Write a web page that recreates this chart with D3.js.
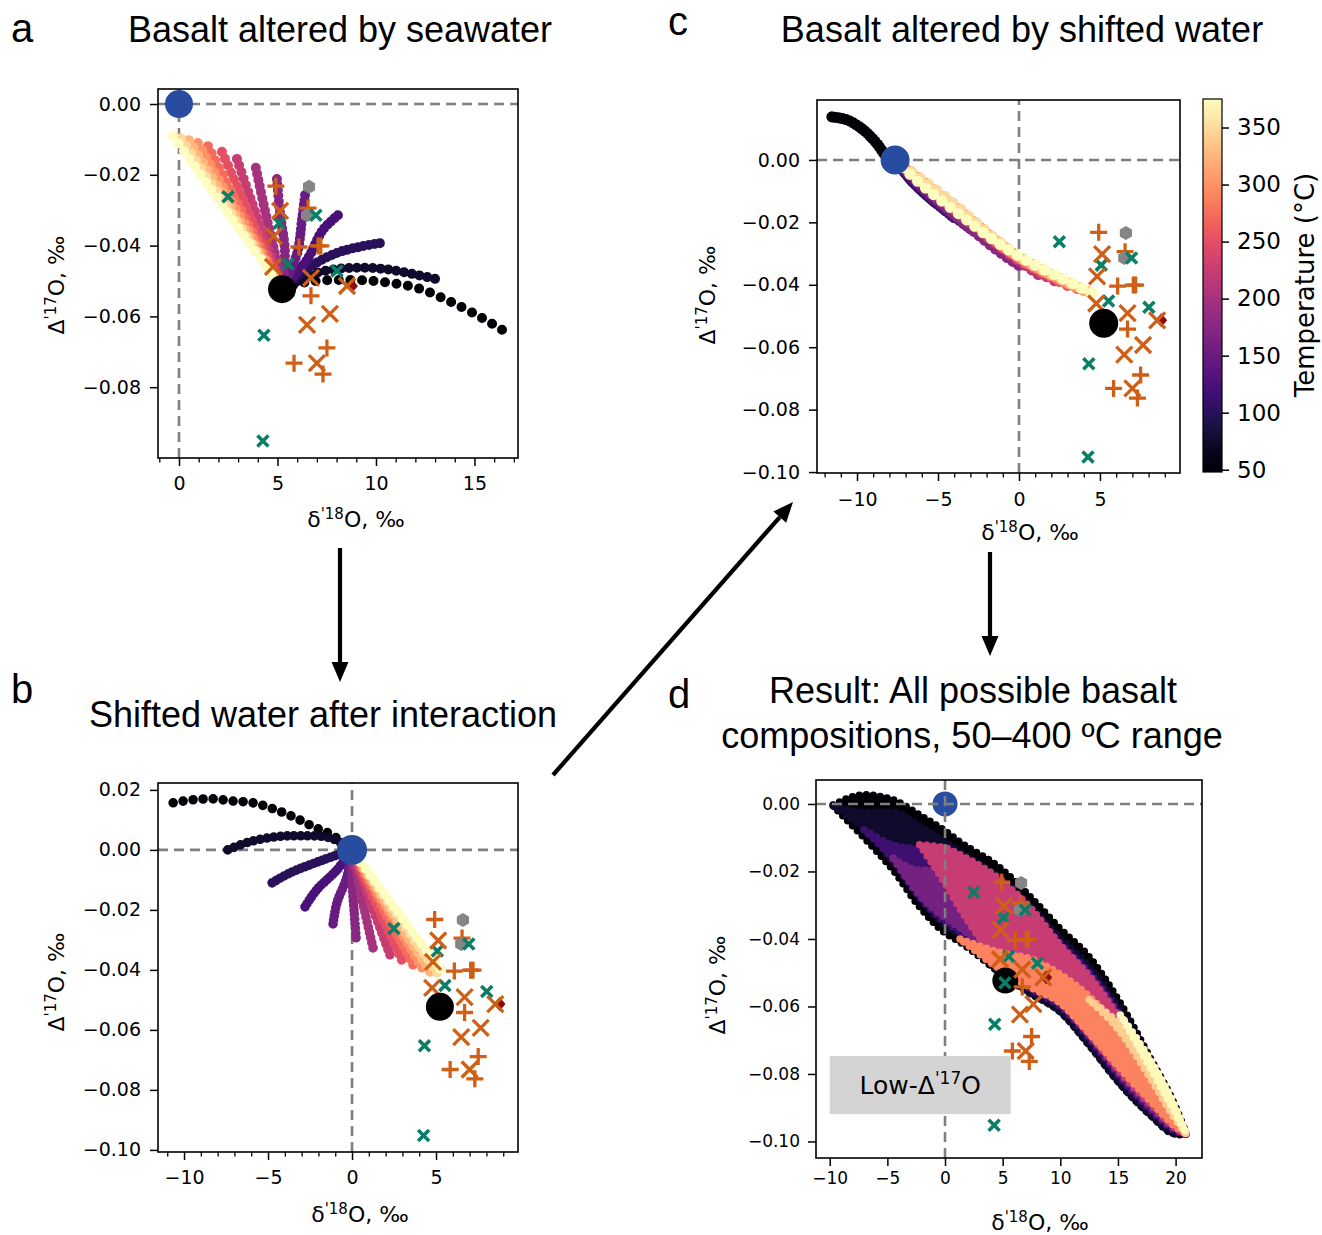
<!DOCTYPE html>
<html><head><meta charset="utf-8">
<script src="https://cdn.jsdelivr.net/npm/d3@7"></script>
<style>
body{margin:0;background:#fff}
text{font-family:"DejaVu Sans",sans-serif;fill:#000}
.ttl{font-family:"Liberation Sans",Arial,sans-serif}
</style>
</head><body>
<svg id="fig" width="1322" height="1235" xmlns="http://www.w3.org/2000/svg"></svg>
<script>
// ================= DATA =================
const temperatures = [50,75,100,125,150,175,200,225,250,275,300,325,350,375];
const tempRange = [48,375];
const basalt = [5.23,-0.0523];
const seawater = [0,0];
const shiftedWaterC = [-7.65,0];

// Panel a: basalt altered by seawater, one curve per temperature
const curvesA = [
 [[5.23,-0.0523],[6.5,-0.0503],[8.7,-0.0497],[10.4,-0.0503],[12.1,-0.052],[13.8,-0.0559],[15.4,-0.0605],[16.4,-0.0638]],
 [[5.23,-0.0523],[7.0,-0.0477],[8.7,-0.0463],[10.4,-0.0466],[12.1,-0.0483],[13.0,-0.0494]],
 [[5.23,-0.0523],[6.65,-0.046],[8.0,-0.0421],[9.2,-0.0403],[10.2,-0.0393]],
 [[5.23,-0.0523],[6.5,-0.044],[7.3,-0.0356],[8.07,-0.0314]],
 [[5.23,-0.0523],[6.0,-0.0421],[6.24,-0.0328],[6.4,-0.0257]],
 [[5.23,-0.0523],[5.38,-0.042],[5.13,-0.0308],[4.97,-0.0212]],
 [[5.23,-0.0523],[4.9,-0.043],[4.4,-0.031],[3.9,-0.018]],
 [[5.23,-0.0523],[4.47,-0.0400],[3.70,-0.0278],[2.94,-0.0155]],
 [[5.23,-0.0523],[4.21,-0.0394],[3.20,-0.0264],[2.18,-0.0135]],
 [[5.23,-0.0523],[3.98,-0.0388],[2.72,-0.0254],[1.47,-0.0119]],
 [[5.23,-0.0523],[3.81,-0.0385],[2.38,-0.0248],[0.96,-0.0110]],
 [[5.23,-0.0523],[3.65,-0.0383],[2.08,-0.0242],[0.50,-0.0102]],
 [[5.23,-0.0523],[3.52,-0.0381],[1.81,-0.0239],[0.10,-0.0097]],
 [[5.23,-0.0523],[3.39,-0.0379],[1.54,-0.0234],[-0.30,-0.0090]]
];

// Panel b: shifted water after interaction
const curvesB = [
 [[0,0],[-1.2,0.005],[-2.3,0.0077],[-3.5,0.011],[-4.7,0.0137],[-5.9,0.0157],[-7.1,0.0163],[-8.3,0.017],[-9.5,0.0167],[-10.65,0.0157]],
 [[0,0],[-1.3,0.004],[-3.1,0.0047],[-4.5,0.0044],[-6.1,0.0027],[-7.4,0.0]],
 [[0,0],[-1.7,-0.0033],[-3.7,-0.0077],[-4.76,-0.011]],
 [[0,0],[-0.9,-0.0067],[-2.1,-0.0133],[-2.8,-0.019]],
 [[0,0],[-0.3,-0.009],[-0.9,-0.0177],[-1.13,-0.0247]],
 [[0,0],[0.0,-0.010],[0.12,-0.020],[0.24,-0.0293]],
 [[0,0],[0.6,-0.0165],[1.25,-0.0327]],
 [[0,0],[1.1,-0.0175],[2.26,-0.035]],
 [[0,0],[1.45,-0.0183],[2.96,-0.0367]],
 [[0,0],[1.8,-0.0192],[3.63,-0.0383]],
 [[0,0],[2.07,-0.0197],[4.17,-0.0393]],
 [[0,0],[2.3,-0.0203],[4.64,-0.0407]],
 [[0,0],[2.52,-0.0205],[5.06,-0.041]],
 [[0,0],[2.62,-0.0199],[5.24,-0.0397]]
];

// Panel c: basalt altered by shifted water
const curvesC = [
 [[-11.55,0.0138],[-10.6,0.0128],[-9.6,0.0096],[-8.8,0.0054],[-8.1,0.0006],[-7.5,-0.0015]],
 [[-7.65,0],[-6.6,-0.0068],[-5.2,-0.0135]],
 [[-7.65,0],[-6.2,-0.0088],[-4.0,-0.0185]],
 [[-7.65,0],[-6.0,-0.0095],[-3.0,-0.0220]],
 [[-7.65,0],[-5.5,-0.0112],[-2.0,-0.0258]],
 [[-7.65,0],[-5.0,-0.0128],[-1.5,-0.0283],[0.0,-0.0338]],
 [[-7.65,0],[-4.5,-0.0142],[-1.0,-0.0285],[1.2,-0.0367]],
 [[-7.65,0],[-4.5,-0.0137],[0.0,-0.0322],[2.2,-0.0387]],
 [[-7.65,0],[-4.5,-0.0132],[0.0,-0.0317],[3.0,-0.0402]],
 [[-7.65,0],[-4.5,-0.0128],[0.0,-0.0314],[3.6,-0.0412]],
 [[-7.65,0],[-4.5,-0.0125],[0.0,-0.0312],[4.0,-0.0418]],
 [[-7.65,0],[-4.5,-0.0122],[0.0,-0.0310],[4.3,-0.0422]],
 [[-7.65,0],[-4.5,-0.0120],[0.0,-0.0309],[4.4,-0.0424]],
 [[-7.65,0],[-6.9,-0.0038],[-5.7,-0.0093],[-3.64,-0.0176],[-1.6,-0.0256],[0,-0.0308],[2.53,-0.0375],[4.5,-0.0426]]
];

// Panel d: envelope of all basalt compositions as temperature stripes.
// For each stripe: upper and lower Δ'17O at each δ'18O in bandX (null = absent)
const bandX = [-9.7,-7,-4.5,-2.2,0,1.3,4.8,7.5,10,12.5,15.2,17.8,20,20.9];
const stripeTemps = [50,75,115,160,225,290,340,372];
const stripeUpper = [
 [-0.0003,0.0027,0.0012,-0.0033,-0.0080,-0.0113,-0.0190,-0.0279,-0.0370,-0.0453,-0.0590,-0.0753,-0.0898,-0.0975],
 [-0.0004,-0.0024,-0.0024,-0.0065,-0.0113,-0.0142,-0.0219,-0.0305,-0.0397,-0.0480,-0.0610,-0.0764,-0.0907,-0.0978],
 [null,-0.0077,-0.0121,-0.0136,-0.0166,-0.0181,-0.0240,-0.0320,-0.0412,-0.0498,-0.0625,-0.0776,-0.0913,-0.0978],
 [null,null,-0.0160,-0.0196,-0.0196,-0.0190,-0.0249,-0.0329,-0.0421,-0.0507,-0.0634,-0.0782,-0.0916,-0.0978],
 [null,null,null,-0.0121,-0.0130,-0.0151,-0.0225,-0.0312,-0.0418,-0.0510,-0.0640,-0.0788,-0.0919,-0.0978],
 [null,null,null,null,null,-0.0400,-0.0440,-0.0460,-0.0505,-0.0570,-0.0670,-0.0794,-0.0921,-0.0978],
 [null,null,null,null,null,null,null,null,null,-0.0580,-0.0655,-0.0764,-0.0907,-0.0976],
 [null,null,null,null,null,null,null,null,null,null,-0.0625,-0.0759,-0.0901,-0.0976]
];
const stripeLower = [
 [-0.0006,-0.0101,-0.0196,-0.0305,-0.0382,-0.0409,-0.0501,-0.0563,-0.0616,-0.0714,-0.0830,-0.0921,-0.0978,-0.0981],
 [-0.0005,-0.0077,-0.0172,-0.0281,-0.0359,-0.0391,-0.0501,-0.0563,-0.0616,-0.0714,-0.0830,-0.0921,-0.0978,-0.0978],
 [null,-0.0077,-0.0166,-0.0276,-0.0350,-0.0379,-0.0486,-0.0551,-0.0601,-0.0696,-0.0812,-0.0907,-0.0969,-0.0978],
 [null,null,-0.0160,-0.0270,-0.0338,-0.0367,-0.0477,-0.0542,-0.0593,-0.0687,-0.0803,-0.0898,-0.0966,-0.0978],
 [null,null,null,-0.0121,-0.0235,-0.0310,-0.0470,-0.0530,-0.0585,-0.0680,-0.0794,-0.0889,-0.0960,-0.0978],
 [null,null,null,null,null,-0.0400,-0.0490,-0.0545,-0.0590,-0.0680,-0.0785,-0.0880,-0.0957,-0.0978],
 [null,null,null,null,null,null,null,null,null,-0.0580,-0.0676,-0.0812,-0.0936,-0.0976],
 [null,null,null,null,null,null,null,null,null,null,-0.0625,-0.0782,-0.0919,-0.0976]
];

// Measured samples (same in all panels)
const samplesPlus = [[4.92,-0.0232],[6.55,-0.0294],[6.09,-0.0404],[7.06,-0.0401],[7.2,-0.0401],[6.70,-0.0542],[7.51,-0.0689],[5.84,-0.0732],[7.31,-0.0763]];
const samplesCross = [[5.13,-0.0302],[4.82,-0.0373],[4.77,-0.0460],[6.70,-0.0491],[8.53,-0.0514],[7.66,-0.0593],[6.50,-0.0624],[7.0,-0.0732]];
const samplesGreen = [[2.49,-0.0262],[6.95,-0.0314],[5.08,-0.0337],[5.53,-0.0452],[8.02,-0.0472],[4.31,-0.0653],[4.26,-0.0952],[5.2,-0.0530]];
const samplesHex = [[6.6,-0.0234],[6.5,-0.0314]];
const samplesDiamond = [[8.78,-0.0514]];

// Tick values
const xTicksA=[0,5,10,15], yTicksA=[0,-0.02,-0.04,-0.06,-0.08];
const xTicksB=[-10,-5,0,5], yTicksB=[0.02,0,-0.02,-0.04,-0.06,-0.08,-0.10];
const xTicksC=[-10,-5,0,5], yTicksC=[0,-0.02,-0.04,-0.06,-0.08,-0.10];
const xTicksD=[-10,-5,0,5,10,15,20], yTicksD=[0,-0.02,-0.04,-0.06,-0.08,-0.10];
const cbarTicks=[50,100,150,200,250,300,350];

const lowBox = {x:[-10,5.7], y:[-0.0919,-0.0747], label:"Low-Δ", sup:"'17", tail:"O"};

// ================= DRAW =================
const svg = d3.select("#fig");
const defs = svg.append("defs");
const tColor = T => d3.interpolateMagma((T-tempRange[0])/(tempRange[1]-tempRange[0]));
const ORANGE="#cf5f16", GREEN="#0b7e65", BLUE="#284ca0", GREY="#858585", DRED="#8a0c0c";
const fmtY = d3.format(".2f"), fmtX = d3.format("d");

function panel(id, cfg){
  const x = d3.scaleLinear().domain(cfg.xd).range([cfg.l,cfg.r]);
  const y = d3.scaleLinear().domain(cfg.yd).range([cfg.b,cfg.t]);
  const g = svg.append("g").attr("id","panel-"+id);
  defs.append("clipPath").attr("id","clip-"+id).append("rect")
    .attr("x",cfg.l).attr("y",cfg.t).attr("width",cfg.r-cfg.l).attr("height",cfg.b-cfg.t);
  const plot = g.append("g").attr("clip-path",`url(#clip-${id})`);
  const axG = g.append("g");
  if(cfg.minor){
    axG.append("g").attr("transform",`translate(0,${cfg.b})`)
      .call(d3.axisBottom(x).tickValues(cfg.minor).tickSize(4.5).tickFormat(""))
      .call(s=>{s.select(".domain").remove(); s.selectAll("line").attr("stroke-width",1.3);});
  }
  axG.append("g").attr("transform",`translate(0,${cfg.b})`)
    .call(d3.axisBottom(x).tickValues(cfg.xt).tickFormat(fmtX).tickSize(8).tickPadding(cfg.xpad))
    .call(s=>{s.select(".domain").remove(); s.selectAll("line").attr("stroke-width",1.5);
      s.selectAll("text").attr("font-size",cfg.fs).attr("font-family","DejaVu Sans");});
  axG.append("g").attr("transform",`translate(${cfg.l},0)`)
    .call(d3.axisLeft(y).tickValues(cfg.yt).tickFormat(fmtY).tickSize(8).tickPadding(cfg.ypad))
    .call(s=>{s.select(".domain").remove(); s.selectAll("line").attr("stroke-width",1.5);
      s.selectAll("text").attr("font-size",cfg.fs).attr("font-family","DejaVu Sans");});
  g.append("rect").attr("x",cfg.l).attr("y",cfg.t).attr("width",cfg.r-cfg.l).attr("height",cfg.b-cfg.t)
    .attr("fill","none").attr("stroke","#000").attr("stroke-width",1.6);
  richText(g, cfg.xl[0], cfg.xl[1], 0, [["δ",0],["'18",1],["O, ‰",0]], cfg.lfs);
  richText(g, cfg.yl[0], cfg.yl[1], -90, [["Δ",0],["'17",1],["O, ‰",0]], cfg.lfs);
  return {x,y,g,plot};
}

function richText(g, cx, cy, rot, parts, fs){
  const t = g.append("text").attr("text-anchor","middle").attr("font-size",fs)
    .attr("transform",`translate(${cx},${cy}) rotate(${rot})`);
  parts.forEach(([s,sup],i)=>{
    const ts = t.append("tspan").text(s);
    if(sup){ ts.attr("font-size",fs*0.68).attr("dy",-fs*0.38); }
    else if(i>0 && parts[i-1][1]){ ts.attr("dy",fs*0.38); }
  });
  return t;
}

const lineGen = (P)=>d3.line().x(d=>P.x(d[0])).y(d=>P.y(d[1])).curve(d3.curveCatmullRom.alpha(0.5));

function dottedCurve(P, pts, color, r, n){
  const p = P.plot.append("path").attr("d", lineGen(P)(pts))
    .attr("fill","none").attr("stroke",color).attr("stroke-width",2*r).attr("stroke-linecap","round");
  const L = p.node().getTotalLength();
  p.attr("stroke-dasharray", `0 ${Math.max(0.5,L/(n-1)-0.01)}`);
}

function dashes(P){
  const [x0,x1]=P.x.domain(), [y0,y1]=P.y.domain();
  P.plot.append("line").attr("x1",P.x(x0)).attr("x2",P.x(x1)).attr("y1",P.y(0)).attr("y2",P.y(0))
    .attr("stroke","#7f7f7f").attr("stroke-width",2.6).attr("stroke-dasharray","10,6");
  P.plot.append("line").attr("x1",P.x(0)).attr("x2",P.x(0)).attr("y1",P.y(y0)).attr("y2",P.y(y1))
    .attr("stroke","#7f7f7f").attr("stroke-width",2.6).attr("stroke-dasharray","10,6");
}

function markers(P){
  const L = P.plot;
  L.selectAll(null).data(samplesDiamond).join("path")
    .attr("transform",d=>`translate(${P.x(d[0])},${P.y(d[1])})`).attr("d","M0,-7L6,0L0,7L-6,0Z").attr("fill",DRED);
  L.selectAll(null).data(samplesPlus).join("path")
    .attr("transform",d=>`translate(${P.x(d[0])},${P.y(d[1])})`).attr("d","M-8.5,0H8.5M0,-8.5V8.5")
    .attr("stroke",ORANGE).attr("stroke-width",3.3).attr("fill","none");
  L.selectAll(null).data(samplesHex).join("path")
    .attr("transform",d=>`translate(${P.x(d[0])},${P.y(d[1])})`)
    .attr("d",()=>{const a=d3.range(6).map(k=>[7*Math.sin(k*Math.PI/3),-7*Math.cos(k*Math.PI/3)]);return "M"+a.join("L")+"Z";})
    .attr("fill",GREY);
  L.selectAll(null).data(samplesGreen).join("path")
    .attr("transform",d=>`translate(${P.x(d[0])},${P.y(d[1])})`).attr("d","M-5.5,-5.5L5.5,5.5M-5.5,5.5L5.5,-5.5")
    .attr("stroke",GREEN).attr("stroke-width",3.6).attr("fill","none");
  L.selectAll(null).data(samplesCross).join("path")
    .attr("transform",d=>`translate(${P.x(d[0])},${P.y(d[1])})`).attr("d","M-8,-8L8,8M-8,8L8,-8")
    .attr("stroke",ORANGE).attr("stroke-width",3.3).attr("fill","none");
}
function bigDot(P, pt, color, r){
  P.plot.append("circle").attr("cx",P.x(pt[0])).attr("cy",P.y(pt[1])).attr("r",r).attr("fill",color);
}

// ---------- Panel a ----------
const A = panel("a",{l:158,r:518,t:89,b:458,xd:[-1.066,17.21],yd:[-0.1,0.00424],
  xt:xTicksA,yt:yTicksA,minor:d3.range(-1,18).filter(v=>v%5!==0),fs:19,lfs:22,xpad:11,ypad:9,
  xl:[356,527],yl:[64,285]});
dashes(A);
curvesA.forEach((c,i)=>dottedCurve(A,c,tColor(temperatures[i]),5,21));
markers(A);
bigDot(A,basalt,"#000",14);
bigDot(A,seawater,BLUE,14);

// ---------- Panel b ----------
const B = panel("b",{l:158,r:518,t:783,b:1152,xd:[-11.55,9.88],yd:[-0.1007,0.0223],
  xt:xTicksB,yt:yTicksB,minor:d3.range(-11,10).filter(v=>v%5!==0),fs:19,lfs:22,xpad:11,ypad:9,
  xl:[360,1222],yl:[64,982]});
dashes(B);
curvesB.forEach((c,i)=>dottedCurve(B,c,tColor(temperatures[i]),4.8,20));
markers(B);
bigDot(B,basalt,"#000",14);
bigDot(B,seawater,BLUE,15);

// ---------- Panel c ----------
const C = panel("c",{l:817,r:1180,t:100,b:473,xd:[-12.47,9.94],yd:[-0.1003,0.0192],
  xt:xTicksC,yt:yTicksC,minor:d3.range(-12,10).filter(v=>v%5!==0),fs:19,lfs:22,xpad:12,ypad:9,
  xl:[1030,540],yl:[715,295]});
dashes(C);
curvesC.forEach((c,i)=>dottedCurve(C,c,tColor(temperatures[i]),5.6,24));
markers(C);
bigDot(C,basalt,"#000",14.5);
bigDot(C,shiftedWaterC,BLUE,14.5);

// ---------- Panel d ----------
const D = panel("d",{l:816,r:1202,t:780,b:1158,xd:[-11.19,22.29],yd:[-0.1049,0.0071],
  xt:xTicksD,yt:yTicksD,minor:null,fs:17,lfs:22,xpad:6,ypad:8,
  xl:[1040,1230],yl:[725,985]});
{
  const area = d3.area().defined(d=>d.u!==null)
    .x(d=>D.x(d.x)).y0(d=>D.y(d.l)).y1(d=>D.y(d.u)).curve(d3.curveMonotoneX);
  stripeTemps.forEach((T,i)=>{
    const rows = bandX.map((x,k)=>({x, u:stripeUpper[i][k], l:stripeLower[i][k]}));
    const col = tColor(T);
    D.plot.append("path").attr("d",area(rows)).attr("fill",col)
      .attr("stroke",col).attr("stroke-width",7.5).attr("stroke-linecap","round")
      .attr("stroke-dasharray","0 7");
  });
}
bigDot(D,seawater,BLUE,12.5);
dashes(D);
bigDot(D,basalt,"#000",13);
markers(D);
D.plot.append("rect").attr("x",D.x(lowBox.x[0])).attr("y",D.y(lowBox.y[1]))
  .attr("width",D.x(lowBox.x[1])-D.x(lowBox.x[0])).attr("height",D.y(lowBox.y[0])-D.y(lowBox.y[1]))
  .attr("fill","#d4d4d4");
{
  const t = D.g.append("text").attr("x",(D.x(lowBox.x[0])+D.x(lowBox.x[1]))/2).attr("y",D.y((lowBox.y[0]+lowBox.y[1])/2)+9)
    .attr("text-anchor","middle").attr("font-size",25);
  t.append("tspan").text(lowBox.label);
  t.append("tspan").text(lowBox.sup).attr("font-size",17).attr("dy",-10);
  t.append("tspan").text(lowBox.tail).attr("dy",10);
}

// ---------- Colorbar ----------
{
  const cb = {l:1203,r:1222,t:99,b:472};
  const cy = d3.scaleLinear().domain(tempRange).range([cb.b,cb.t]);
  const grad = defs.append("linearGradient").attr("id","magma").attr("x1",0).attr("x2",0).attr("y1",1).attr("y2",0);
  d3.range(0,1.0001,0.05).forEach(t=>grad.append("stop").attr("offset",t).attr("stop-color",d3.interpolateMagma(t)));
  svg.append("rect").attr("x",cb.l).attr("y",cb.t).attr("width",cb.r-cb.l).attr("height",cb.b-cb.t)
    .attr("fill","url(#magma)").attr("stroke","#000").attr("stroke-width",1.2);
  svg.append("g").attr("transform",`translate(${cb.r},0)`)
    .call(d3.axisRight(cy).tickValues(cbarTicks).tickSize(7).tickPadding(8).tickFormat(d3.format("d")))
    .call(s=>{s.select(".domain").remove(); s.selectAll("line").attr("stroke-width",1.5);
      s.selectAll("text").attr("font-size",23).attr("font-family","DejaVu Sans");});
  svg.append("text").attr("transform","translate(1314,285) rotate(-90)").attr("text-anchor","middle")
    .attr("font-size",26).text("Temperature (°C)");
}

// ---------- Titles & letters ----------
const titles = [
  {x:340,y:42,s:"Basalt altered by seawater"},
  {x:323,y:727,s:"Shifted water after interaction"},
  {x:1022,y:42,s:"Basalt altered by shifted water"},
  {x:973,y:703,s:"Result: All possible basalt"},
  {x:972,y:748,s:"compositions, 50–400 ºC range"}
];
titles.forEach(t=>svg.append("text").attr("class","ttl").attr("x",t.x).attr("y",t.y)
  .attr("text-anchor","middle").attr("font-size",36).text(t.s));
[["a",11,42],["b",11,703],["c",668,35],["d",668,708]].forEach(([s,x,y])=>
  svg.append("text").attr("class","ttl").attr("x",x).attr("y",y).attr("font-size",40).text(s));

// ---------- Arrows ----------
function arrow(x1,y1,x2,y2){
  const ang=Math.atan2(y2-y1,x2-x1), hl=20, hw=8.5;
  const bx=x2-hl*Math.cos(ang), by=y2-hl*Math.sin(ang);
  svg.append("line").attr("x1",x1).attr("y1",y1).attr("x2",bx).attr("y2",by).attr("stroke","#000").attr("stroke-width",4.2);
  const px=-Math.sin(ang)*hw, py=Math.cos(ang)*hw;
  svg.append("path").attr("d",`M${x2},${y2}L${bx+px},${by+py}L${bx-px},${by-py}Z`).attr("fill","#000");
}
arrow(340,548,340,682);
arrow(553,775,793,502);
arrow(990,552,990,656);
</script>
</body></html>
